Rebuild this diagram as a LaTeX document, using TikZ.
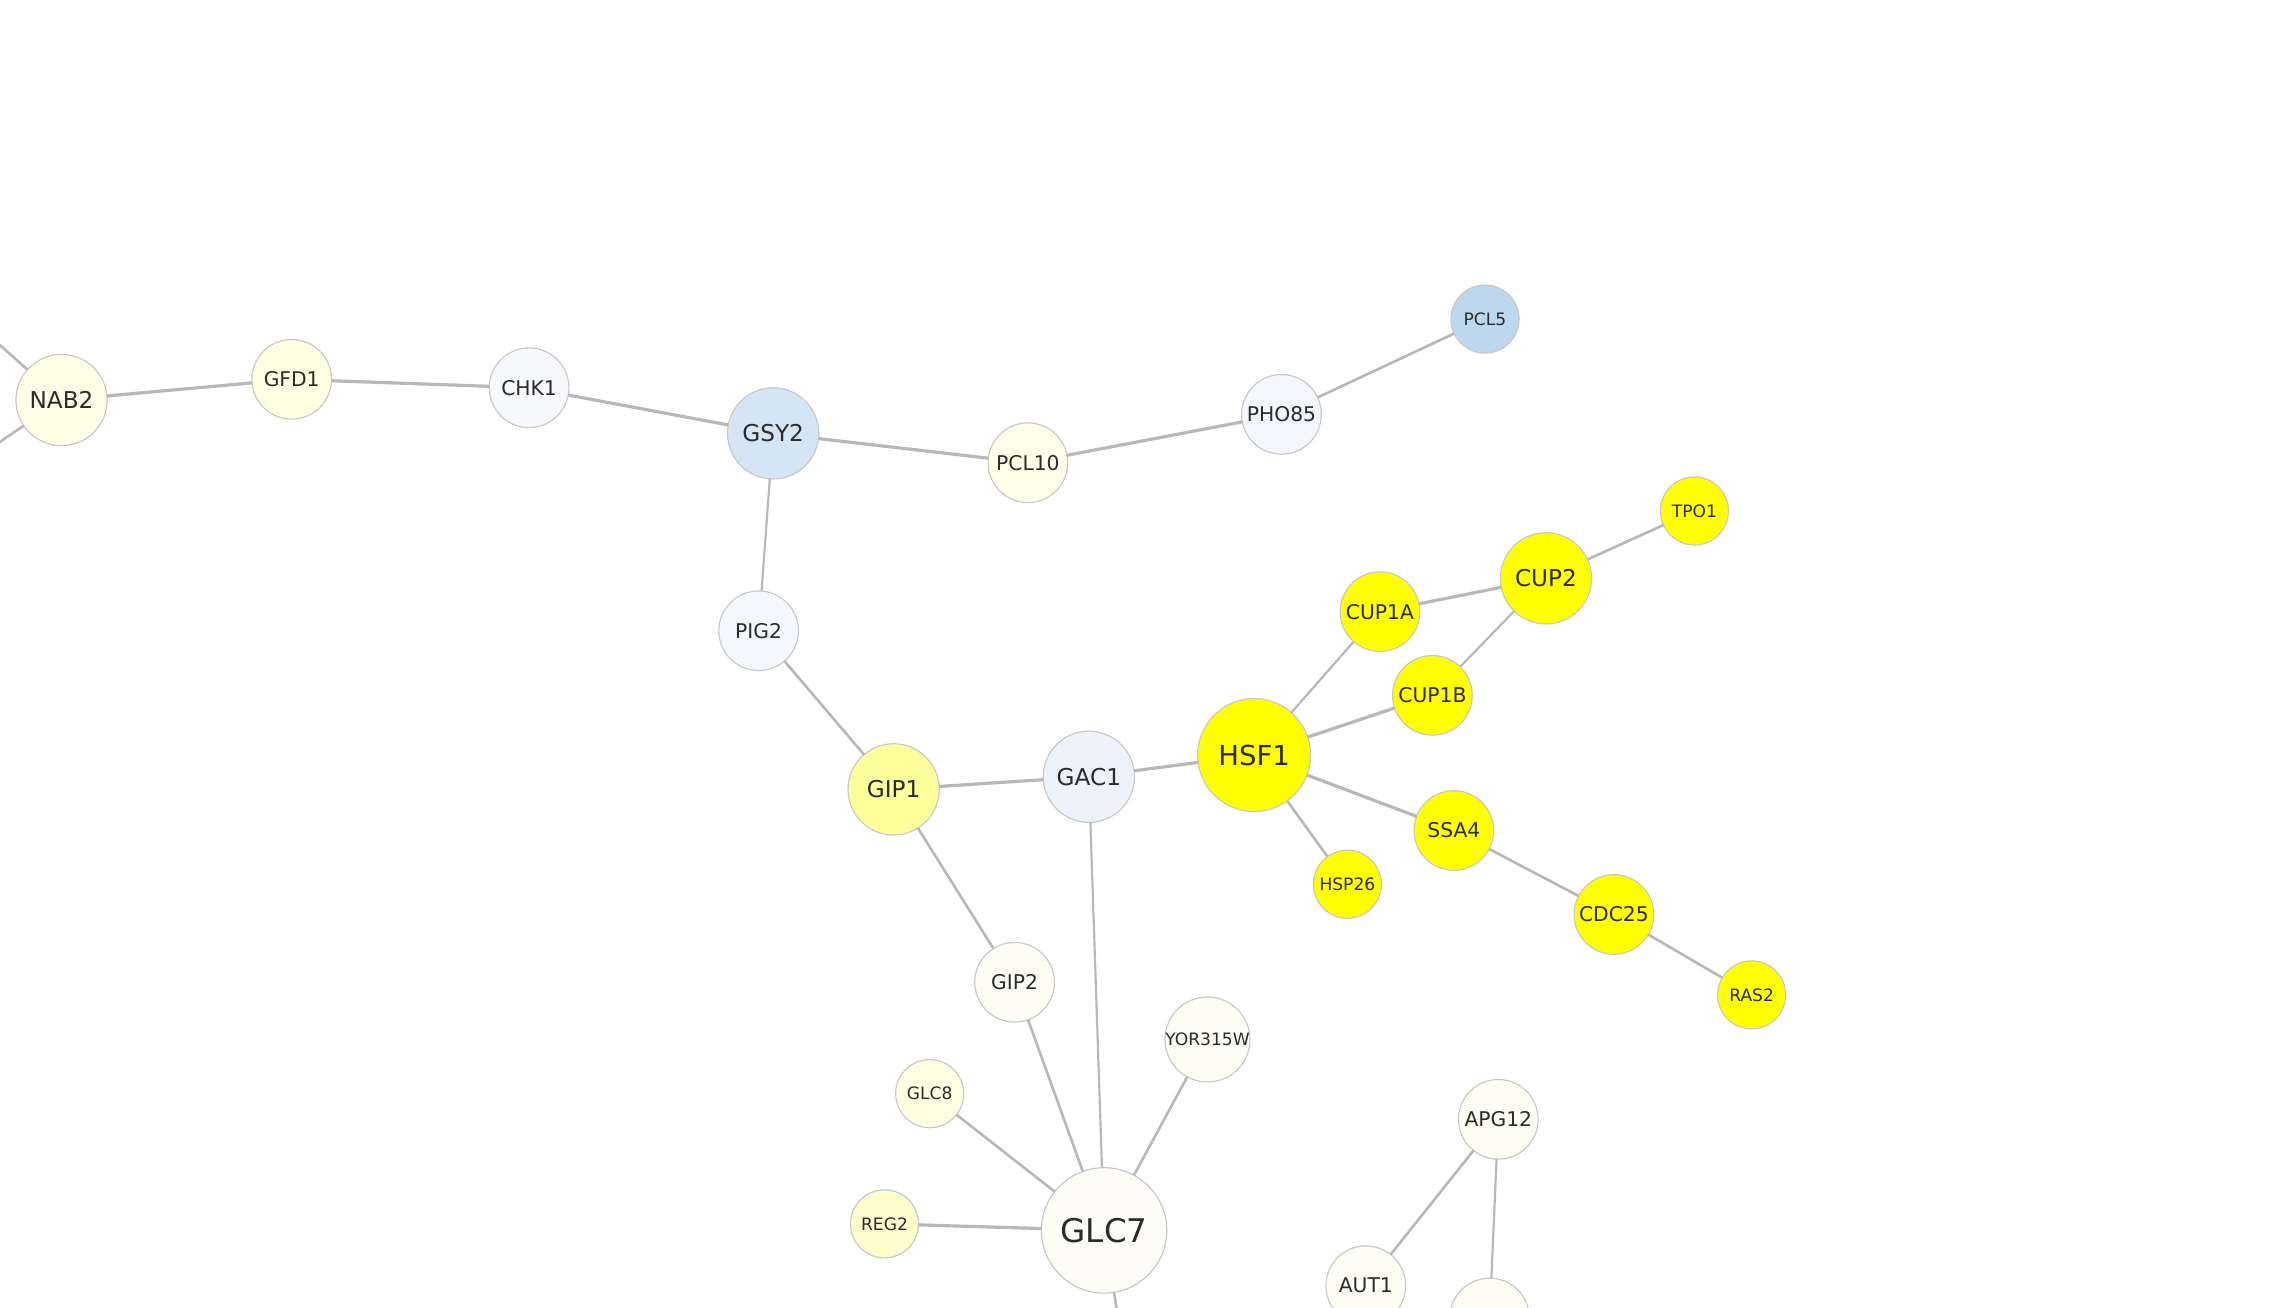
\documentclass[tikz,border=0pt]{standalone}
\usepackage{fontspec}
\setmainfont{DejaVu Sans}
\definecolor{edgec}{HTML}{B8B8B8}
\definecolor{bordc}{HTML}{C8C8C8}
\definecolor{txtc}{HTML}{2B2B2B}
\definecolor{cNAB}{HTML}{FEFEE6}
\definecolor{cGFD}{HTML}{FFFFE4}
\definecolor{cCHK}{HTML}{F8F9FC}
\definecolor{cGSY}{HTML}{D4E5F5}
\definecolor{cPCLt}{HTML}{FFFFEA}
\definecolor{cPHO}{HTML}{F3F6FB}
\definecolor{cPCLf}{HTML}{BDD7EE}
\definecolor{cPIG}{HTML}{F4F7FB}
\definecolor{cGIPa}{HTML}{FFFF9C}
\definecolor{cGAC}{HTML}{EEF3FA}
\definecolor{cYel}{HTML}{FFFF00}
\definecolor{cPale}{HTML}{FDFDF3}
\definecolor{cGLCe}{HTML}{FEFEE0}
\definecolor{cREG}{HTML}{FEFECC}
\definecolor{cGLCs}{HTML}{FDFDF5}
\tikzset{
  gene/.style={circle, draw=bordc, line width=0.8pt, inner sep=0pt, outer sep=0pt, text=txtc},
  xl/.style={gene, minimum size=86.6pt, font=\fontsize{22.5}{24}\selectfont},
  lg/.style={gene, minimum size=78pt, font=\fontsize{19}{21}\selectfont},
  md/.style={gene, minimum size=63pt, font=\fontsize{16}{18}\selectfont},
  rg/.style={gene, minimum size=55pt, font=\fontsize{14}{16}\selectfont},
  sm/.style={gene, minimum size=47pt, font=\fontsize{11.8}{13}\selectfont},
  link/.style={draw=edgec, line width=1.8pt},
  thick link/.style={draw=edgec, line width=2.2pt},
  thin link/.style={draw=edgec, line width=1.5pt}
}
\begin{document}
\begin{tikzpicture}[x=1pt,y=-1pt]
\useasboundingbox (0,0) rectangle (1568,903);
\fill[white] (0,0) rectangle (1568,903);
% nodes
\node[md, fill=cNAB]  (NAB2)  at (42.5,276.2) {NAB2};
\node[rg, fill=cGFD]  (GFD1)  at (201.4,261.9) {GFD1};
\node[rg, fill=cCHK]  (CHK1)  at (365.3,267.7) {CHK1};
\node[md, fill=cGSY]  (GSY2)  at (533.8,299.2) {GSY2};
\node[rg, fill=cPCLt] (PCL10) at (709.7,319.5) {PCL10};
\node[rg, fill=cPHO]  (PHO85) at (884.8,286.1) {PHO85};
\node[sm, fill=cPCLf] (PCL5)  at (1025.3,220.3) {PCL5};
\node[rg, fill=cPIG]  (PIG2)  at (523.8,435.5) {PIG2};
\node[md, fill=cGIPa] (GIP1)  at (617.0,545.0) {GIP1};
\node[md, fill=cGAC]  (GAC1)  at (751.8,536.3) {GAC1};
\node[lg, fill=cYel]  (HSF1)  at (865.9,521.3) {HSF1};
\node[rg, fill=cYel]  (CUP1A) at (952.8,422.3) {CUP1A};
\node[md, fill=cYel]  (CUP2)  at (1067.4,399.3) {CUP2};
\node[sm, fill=cYel]  (TPO1)  at (1169.9,352.8) {TPO1};
\node[rg, fill=cYel]  (CUP1B) at (989.0,480.1) {CUP1B};
\node[rg, fill=cYel]  (SSA4)  at (1003.8,573.4) {SSA4};
\node[sm, fill=cYel]  (HSP26) at (930.3,610.5) {HSP26};
\node[rg, fill=cYel]  (CDC25) at (1114.3,631.4) {CDC25};
\node[sm, fill=cYel]  (RAS2)  at (1209.4,686.9) {RAS2};
\node[rg, fill=cPale] (GIP2)  at (700.5,678.2) {GIP2};
\node[sm, fill=cPale] (YOR)   at (833.7,717.7) {YOR315W};
\node[sm, fill=cGLCe] (GLC8)  at (641.9,755.1) {GLC8};
\node[sm, fill=cREG]  (REG2)  at (610.7,845.0) {REG2};
\node[xl, fill=cGLCs] (GLC7)  at (762.3,849.5) {GLC7};
\node[rg, fill=cPale] (APG12) at (1034.5,772.8) {APG12};
\node[rg, fill=cPale] (AUT1)  at (943.0,887.7) {AUT1};
\node[rg, fill=cPale] (BOT)   at (1028.5,910.0) {};
\coordinate (offA) at (-25,216);
\coordinate (offB) at (-25,322);
\coordinate (offC) at (780,960);
% edges
\draw[link] (NAB2) -- (offA);
\draw[link] (NAB2) -- (offB);
\draw[thick link] (NAB2) -- (GFD1);
\draw[thick link] (GFD1) -- (CHK1);
\draw[thick link] (CHK1) -- (GSY2);
\draw[thick link] (GSY2) -- (PCL10);
\draw[thick link] (PCL10) -- (PHO85);
\draw[link] (PHO85) -- (PCL5);
\draw[thin link] (GSY2) -- (PIG2);
\draw[link] (PIG2) -- (GIP1);
\draw[thick link] (GIP1) -- (GAC1);
\draw[thick link] (GAC1) -- (HSF1);
\draw[thin link] (HSF1) -- (CUP1A);
\draw[thick link] (HSF1) -- (CUP1B);
\draw[thick link] (HSF1) -- (SSA4);
\draw[link] (HSF1) -- (HSP26);
\draw[thick link] (CUP1A) -- (CUP2);
\draw[thin link] (CUP2) -- (CUP1B);
\draw[link] (CUP2) -- (TPO1);
\draw[link] (SSA4) -- (CDC25);
\draw[link] (CDC25) -- (RAS2);
\draw[link] (GIP1) -- (GIP2);
\draw[link] (GIP2) -- (GLC7);
\draw[thin link] (GAC1) -- (GLC7);
\draw[link] (YOR) -- (GLC7);
\draw[link] (GLC8) -- (GLC7);
\draw[thick link] (REG2) -- (GLC7);
\draw[link] (GLC7) -- (offC);
\draw[link] (APG12) -- (AUT1);
\draw[thin link] (APG12) -- (BOT);
\end{tikzpicture}
\end{document}
